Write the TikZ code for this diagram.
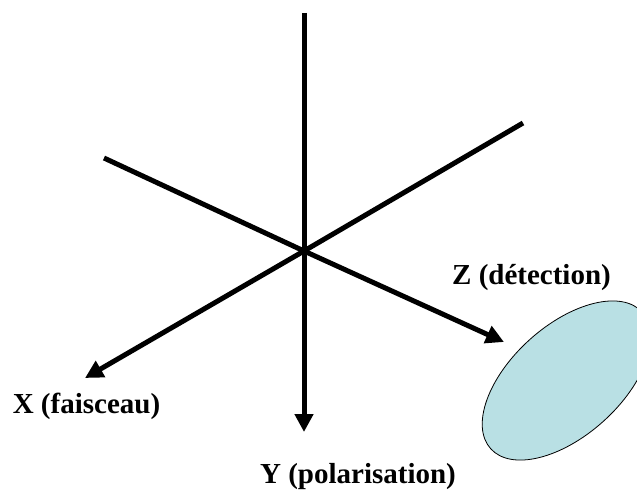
\documentclass[tikz,border=0pt]{standalone}
\usepackage{fontspec}
\setmainfont{Liberation Serif}
\usetikzlibrary{arrows.meta,shapes.geometric}
\tikzset{
  axisline/.style={line width=5pt,draw=black},
  axisarrow/.style={axisline,-{Triangle[length=18pt,width=18pt]}},
  lab/.style={font=\bfseries\fontsize{29}{33}\selectfont,text=black,inner sep=0pt,anchor=center},
}
\begin{document}
\begin{tikzpicture}[x=1pt,y=-1pt]
\useasboundingbox (0,0) rectangle (637,492);
\clip (0,0) rectangle (637,492);
\coordinate (O) at (304,251);
\coordinate (T) at (304,13);
\coordinate (Y) at (304,432);
\coordinate (NE) at (523,123);
\coordinate (X) at (85,378);
\coordinate (NW) at (104,158);
\coordinate (Z) at (504,342);
\draw[axisline] (T) -- (O);
\draw[axisline] (NE) -- (O);
\draw[axisline] (NW) -- (O);
\draw[axisarrow] (O) -- (Y);
\draw[axisarrow] (O) -- (X);
\draw[axisarrow] (O) -- (Z);
\node[draw=black,line width=0.8pt,fill={rgb,255:red,185;green,224;blue,228},ellipse,minimum width=204pt,minimum height=110pt,rotate=42,inner sep=0pt] (det) at (566.5,380.5) {};
\node[lab] (lz) at (531.5,277.5) {Z (détection)};
\node[lab] (lx) at (86.5,406) {X (faisceau)};
\node[lab] (ly) at (358,477) {Y (polarisation)};
\end{tikzpicture}
\end{document}
